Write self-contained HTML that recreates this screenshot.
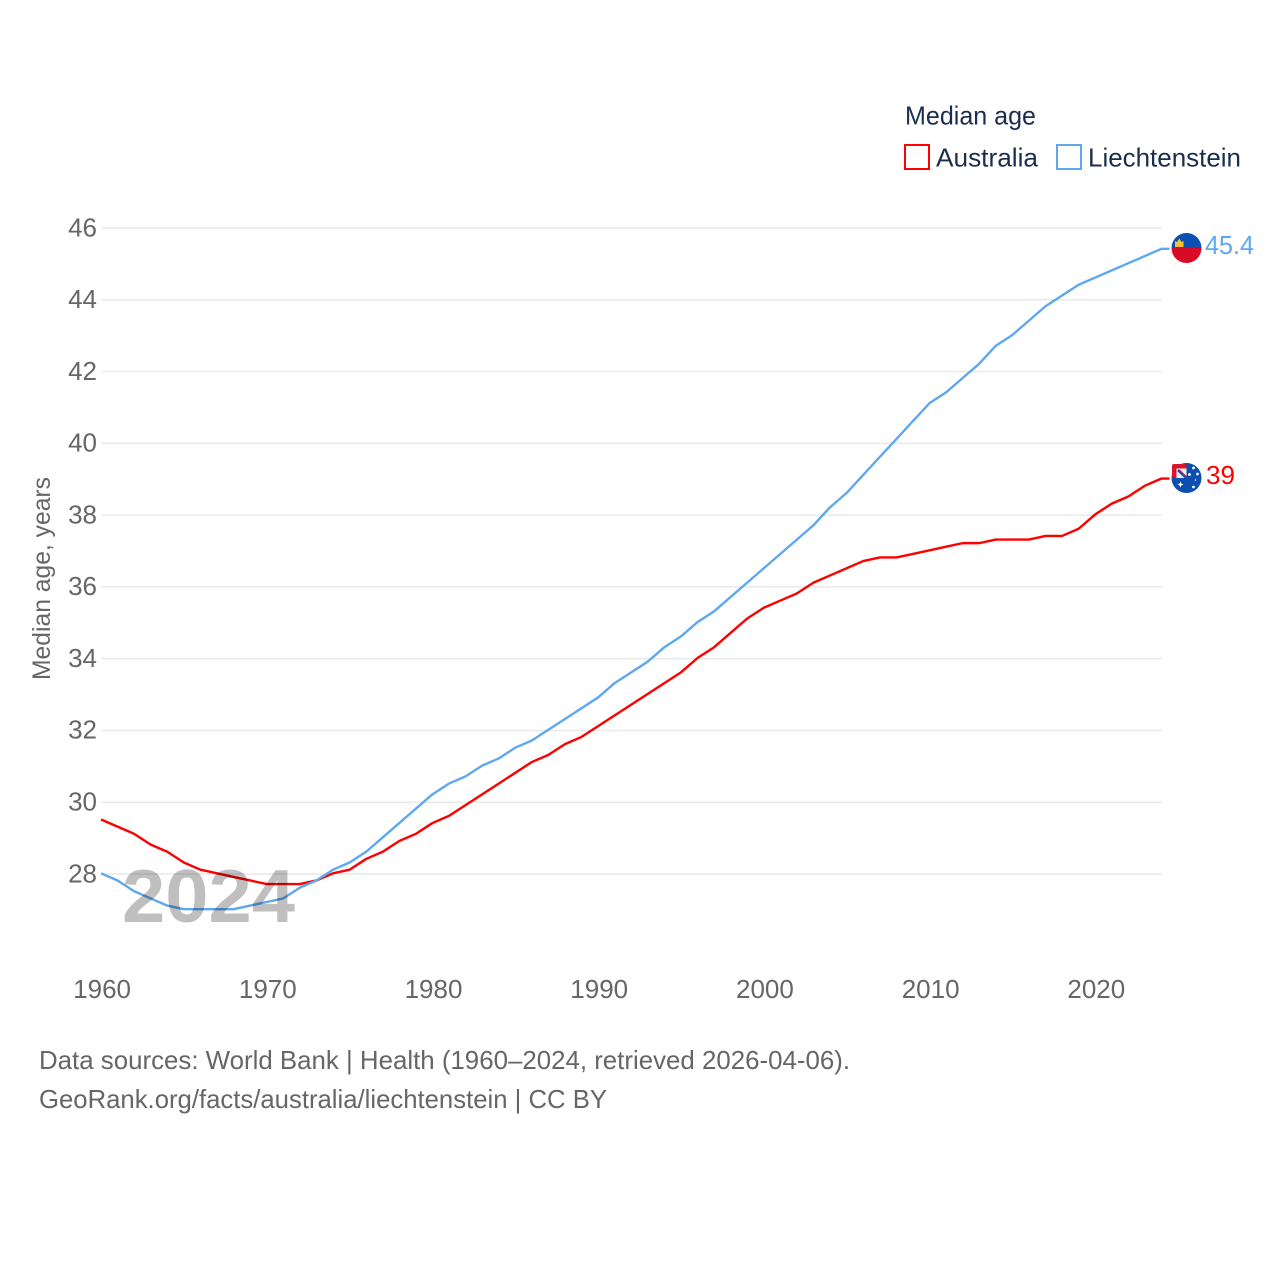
<!DOCTYPE html>
<html>
<head>
<meta charset="utf-8">
<title>Median age: Australia vs Liechtenstein</title>
<style>
html,body{margin:0;padding:0;background:#fff;}
svg{display:block;font-family:"Liberation Sans",sans-serif;}
</style>
</head>
<body>
<svg id="chart" width="1280" height="1280" viewBox="0 0 1280 1280" xmlns="http://www.w3.org/2000/svg">
  <rect width="1280" height="1280" fill="#fff"/>
  <g id="grid"></g>
  <g id="yticks"></g>
  <g id="xticks"></g>
  <g id="series" transform="translate(-0.5,-0.7)"></g>

  <text x="0" y="0" transform="translate(50,680) rotate(-90)" font-size="25" fill="#666" textLength="203" lengthAdjust="spacingAndGlyphs">Median age, years</text>

  <text x="905" y="124.5" font-size="26" fill="#1a2e4f" textLength="131" lengthAdjust="spacingAndGlyphs">Median age</text>
  <g>
    <rect x="905" y="145" width="24" height="24" fill="none" stroke="#ff0000" stroke-width="2"/>
    <text x="936" y="166.5" font-size="26" fill="#1a2e4f" textLength="102" lengthAdjust="spacingAndGlyphs">Australia</text>
  </g>
  <g>
    <rect x="1057" y="145" width="24" height="24" fill="none" stroke="#5fa8f0" stroke-width="2"/>
    <text x="1088" y="166.5" font-size="26" fill="#1a2e4f" textLength="153" lengthAdjust="spacingAndGlyphs">Liechtenstein</text>
  </g>

  <g id="flag-li" transform="translate(1186.5,248)">
    <clipPath id="clip-li"><circle r="15"/></clipPath>
    <g clip-path="url(#clip-li)">
      <rect x="-15" y="-15" width="30" height="15" fill="#0b50b0"/>
      <rect x="-15" y="0" width="30" height="15" fill="#d90a25"/>
      <rect x="-11.5" y="-4" width="8.5" height="3" fill="#f2c230"/>
      <path d="M-11.5,-4 L-11.5,-7 L-9.5,-6 L-7.2,-9.5 L-5,-6 L-3,-7 L-3,-4 Z" fill="#f2c230"/>
    </g>
  </g>
  <g id="flag-au" transform="translate(1186.5,478)">
    <clipPath id="clip-au"><circle r="15"/></clipPath>
    <g clip-path="url(#clip-au)">
      <rect x="-15" y="-15" width="30" height="30" fill="#0b50b0"/>
      <path d="M-6,6.5 m0,-3 l0.9,2.1 2.1,0.9 -2.1,0.9 -0.9,2.1 -0.9,-2.1 -2.1,-0.9 2.1,-0.9 Z" fill="#fff"/>
      <circle cx="7" cy="-10" r="1.4" fill="#fff"/>
      <circle cx="3" cy="-3.5" r="1.4" fill="#fff"/>
      <circle cx="11" cy="-4" r="1.4" fill="#fff"/>
      <circle cx="7" cy="9" r="1.4" fill="#fff"/>
      <circle cx="9" cy="2" r="0.8" fill="#fff"/>
    </g>
    <path d="M-14.5,-12 Q-14.5,-14 -12.5,-14 H0 V0 H-14.5 Z" fill="#ecebf2"/>
    <path d="M-14.5,0 V-12 Q-14.5,-14 -12.5,-14 H0 V-9.5 H-10 V0 Z" fill="#d8152f"/>
    <path d="M-8.5,-8 L0,0" stroke="#0b50b0" stroke-width="2.6"/>
    <path d="M-7,-8 L0,-1" stroke="#d8152f" stroke-width="1"/>
  </g>

  <text x="1205" y="254" font-size="26" fill="#5fa8f0" textLength="49" lengthAdjust="spacingAndGlyphs">45.4</text>
  <text x="1206" y="484" font-size="26" fill="#ff0000" textLength="29" lengthAdjust="spacingAndGlyphs">39</text>

  <text x="122" y="922" font-size="75" font-weight="700" fill="#000" fill-opacity="0.25" textLength="173" lengthAdjust="spacingAndGlyphs">2024</text>

  <text x="39" y="1069" font-size="26" fill="#666" textLength="811" lengthAdjust="spacingAndGlyphs">Data sources: World Bank | Health (1960–2024, retrieved 2026-04-06).</text>
  <text x="39" y="1108" font-size="26" fill="#666" textLength="568" lengthAdjust="spacingAndGlyphs">GeoRank.org/facts/australia/liechtenstein | CC BY</text>
</svg>
<script>
const years = [1960,1961,1962,1963,1964,1965,1966,1967,1968,1969,1970,1971,1972,1973,1974,1975,1976,1977,1978,1979,1980,1981,1982,1983,1984,1985,1986,1987,1988,1989,1990,1991,1992,1993,1994,1995,1996,1997,1998,1999,2000,2001,2002,2003,2004,2005,2006,2007,2008,2009,2010,2011,2012,2013,2014,2015,2016,2017,2018,2019,2020,2021,2022,2023,2024];
const australia = [29.5,29.3,29.1,28.8,28.6,28.3,28.1,28.0,27.9,27.8,27.7,27.7,27.7,27.8,28.0,28.1,28.4,28.6,28.9,29.1,29.4,29.6,29.9,30.2,30.5,30.8,31.1,31.3,31.6,31.8,32.1,32.4,32.7,33.0,33.3,33.6,34.0,34.3,34.7,35.1,35.4,35.6,35.8,36.1,36.3,36.5,36.7,36.8,36.8,36.9,37.0,37.1,37.2,37.2,37.3,37.3,37.3,37.4,37.4,37.6,38.0,38.3,38.5,38.8,39.0];
const liechtenstein = [28.0,27.8,27.5,27.3,27.1,27.0,27.0,27.0,27.0,27.1,27.2,27.3,27.6,27.8,28.1,28.3,28.6,29.0,29.4,29.8,30.2,30.5,30.7,31.0,31.2,31.5,31.7,32.0,32.3,32.6,32.9,33.3,33.6,33.9,34.3,34.6,35.0,35.3,35.7,36.1,36.5,36.9,37.3,37.7,38.2,38.6,39.1,39.6,40.1,40.6,41.1,41.4,41.8,42.2,42.7,43.0,43.4,43.8,44.1,44.4,44.6,44.8,45.0,45.2,45.4];
const yTickValues = [28,30,32,34,36,38,40,42,44,46];
const xTickValues = [1960,1970,1980,1990,2000,2010,2020];

const NS = 'http://www.w3.org/2000/svg';
const xScale = y => 101.5 + (y - 1960) * (1162 - 101.5) / 64;
const yScale = v => 874 - (v - 28) * (874 - 228) / 18;

const gridG = document.getElementById('grid');
const yG = document.getElementById('yticks');
const xG = document.getElementById('xticks');
const seriesG = document.getElementById('series');

yTickValues.forEach(v => {
  const line = document.createElementNS(NS, 'line');
  
  
  line.setAttribute('x1', 101.5);
  line.setAttribute('x2', 1162);
  line.setAttribute('y1', yScale(v));
  line.setAttribute('y2', yScale(v));
  line.setAttribute('stroke', '#e9e9e9');
  line.setAttribute('stroke-width', 1.5);
  gridG.appendChild(line);

  const t = document.createElementNS(NS, 'text');
  
  
  t.setAttribute('x', 97);
  t.setAttribute('y', yScale(v) + 8.3);
  t.setAttribute('text-anchor', 'end');
  t.setAttribute('font-size', 26);
  t.setAttribute('fill', '#666');
  t.textContent = v;
  yG.appendChild(t);
});

xTickValues.forEach(y => {
  const t = document.createElementNS(NS, 'text');
  
  
  t.setAttribute('x', xScale(y) + 0.6);
  t.setAttribute('y', 998);
  t.setAttribute('text-anchor', 'middle');
  t.setAttribute('font-size', 26);
  t.setAttribute('fill', '#666');
  t.textContent = y;
  xG.appendChild(t);
});

function drawSeries(values, color, name) {
  const pts = values.map((v, i) => xScale(years[i]).toFixed(2) + ',' + yScale(v).toFixed(2));
  const last = values[values.length - 1];
  pts.push((xScale(years[years.length - 1]) + 8).toFixed(2) + ',' + yScale(last).toFixed(2));
  const p = document.createElementNS(NS, 'polyline');
  
  
  p.setAttribute('points', pts.join(' '));
  p.setAttribute('fill', 'none');
  p.setAttribute('stroke', color);
  p.setAttribute('stroke-width', 2.4);
  p.setAttribute('stroke-linejoin', 'round');
  seriesG.appendChild(p);
}
drawSeries(australia, '#ff0000', 'line-australia');
drawSeries(liechtenstein, '#5fa8f0', 'line-liechtenstein');
</script>
</body>
</html>
